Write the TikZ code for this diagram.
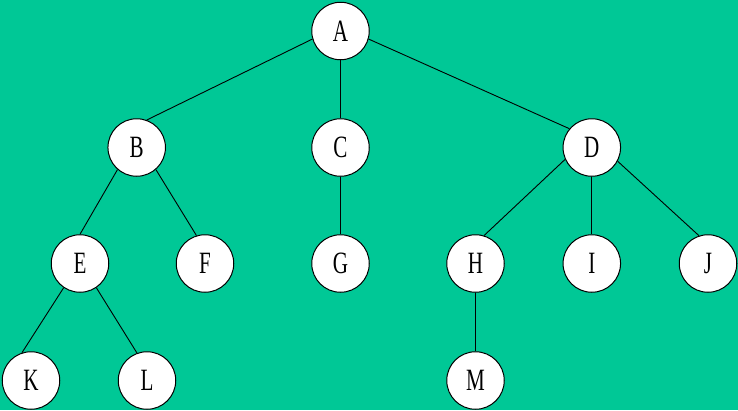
\documentclass[tikz,border=0pt]{standalone}
\usepackage{fontspec}
\setmainfont{Liberation Serif}[FakeStretch=0.68]
\usepackage{tikz}
\usetikzlibrary{positioning}
\definecolor{bggreen}{RGB}{0,200,150}

\begin{document}
\begin{tikzpicture}[
  x=1pt,y=-1pt,
  vertex/.style={circle,draw,fill=white,line width=1pt,minimum size=57.5pt,inner sep=0pt,
    font=\fontsize{31}{31}\selectfont},
  edge/.style={draw,line width=0.9pt}
]
  % background
  \fill[bggreen] (0,0) rectangle (738,410);
  \useasboundingbox (0,0) rectangle (738,410);

  % levels
  \node[vertex] (A) at (340.5,31) {A};
  \node[vertex] (B) at (136.7,147.5) {B};
  \node[vertex] (C) at (340.5,147.5) {C};
  \node[vertex] (D) at (591.8,147.5) {D};
  \node[vertex] (E) at (80,263.5) {E};
  \node[vertex] (F) at (205,263.5) {F};
  \node[vertex] (G) at (340.5,263.5) {G};
  \node[vertex] (H) at (475.5,263.5) {H};
  \node[vertex] (I) at (591.8,263.5) {I};
  \node[vertex] (J) at (708,263.5) {J};
  \node[vertex] (K) at (31,380.5) {K};
  \node[vertex] (L) at (147,380.5) {L};
  \node[vertex] (M) at (475.5,380.5) {M};

  % edges
  \draw[edge] (A.196) -- (B.70);
  \draw[edge] (A.south) -- (C.north);
  \draw[edge] (A.344) -- (D.140);
  \draw[edge] (B.229) -- (E.north);
  \draw[edge] (B.311) -- (F.107);
  \draw[edge] (C.south) -- (G.north);
  \draw[edge] (D.204) -- (H.73);
  \draw[edge] (D.south) -- (I.north);
  \draw[edge] (D.332) -- (J.108);
  \draw[edge] (E.236) -- (K.108);
  \draw[edge] (E.304) -- (L.110);
  \draw[edge] (H.south) -- (M.north);
\end{tikzpicture}
\end{document}
